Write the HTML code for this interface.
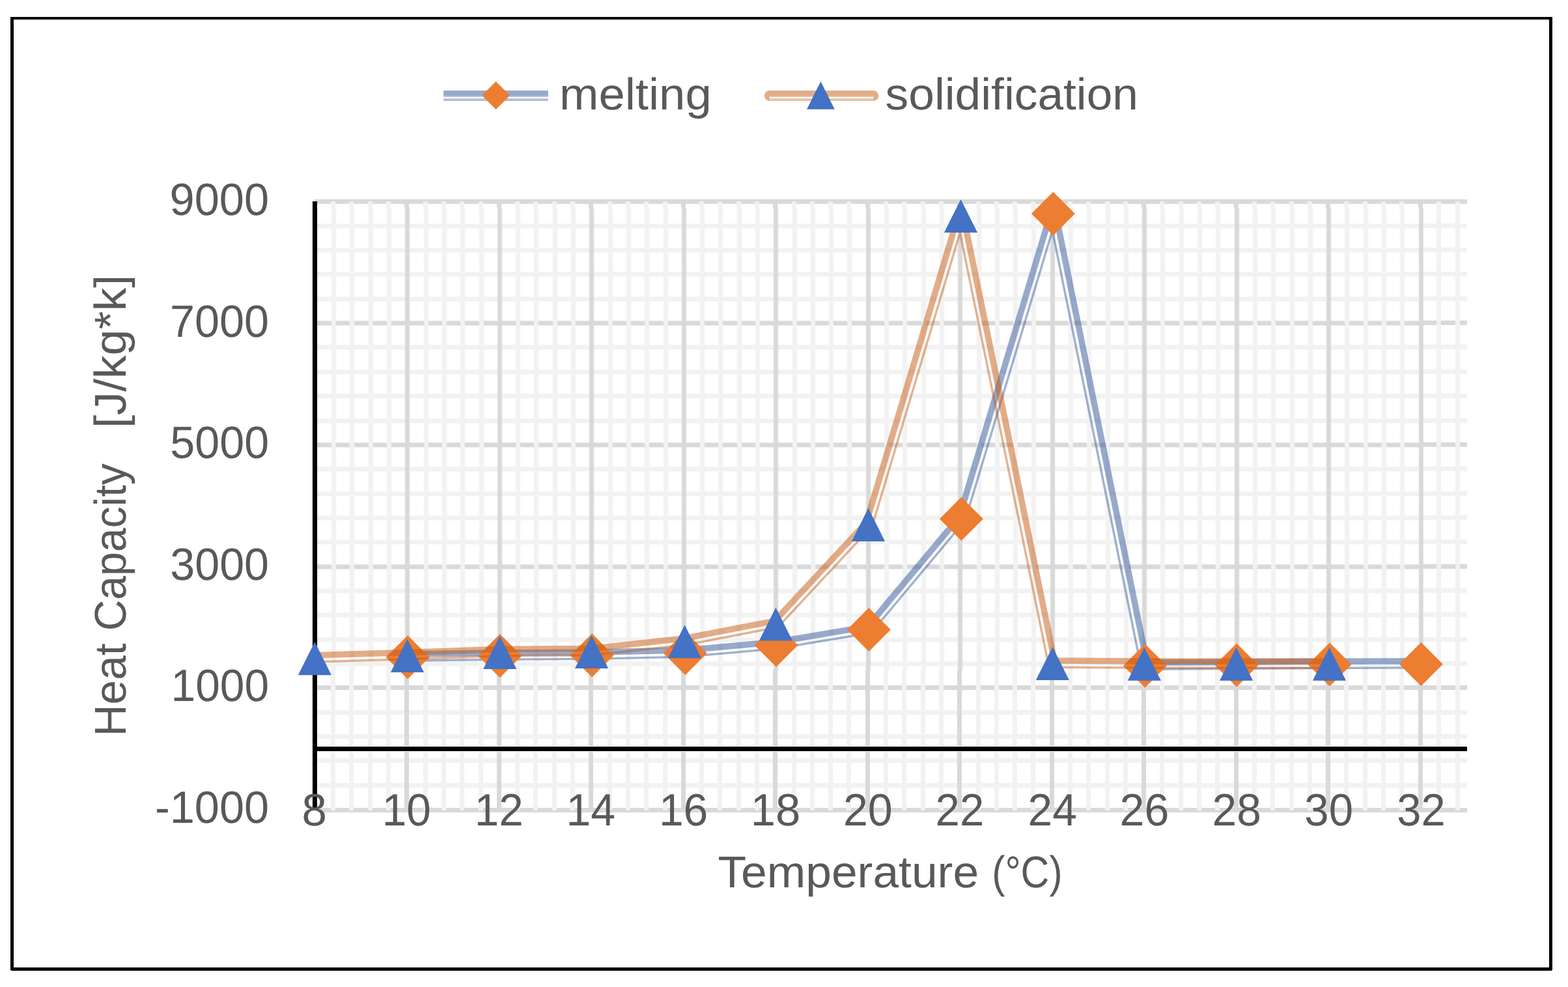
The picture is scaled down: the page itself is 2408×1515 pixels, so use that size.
<!DOCTYPE html>
<html lang="en"><head><meta charset="utf-8"><title>Heat capacity vs temperature</title>
<style>html,body{margin:0;padding:0;background:#fff}body{width:2408px;height:1515px;overflow:hidden}svg{display:block}text{font-family:"Liberation Sans",sans-serif;fill:#595959;text-rendering:geometricPrecision}</style>
</head><body>
<svg width="2408" height="1515" viewBox="0 0 2408 1515">
<defs><clipPath id="raster-area"><rect x="487" y="319" width="1699" height="710"/></clipPath></defs>
<rect width="2408" height="1515" fill="#fff"/>
<g id="chart-frame">
<path d="M16 26H2384V1489H2383V1490H17V1489H16Z M21 30V1485H2379V30Z" fill="#000" fill-rule="evenodd"/>
</g>
<g id="gridlines">
<path d="M483.50 1205.50H2253.00M483.50 1167.50H2253.00M483.50 1130.50H2253.00M483.50 1093.50H2253.00M483.50 1018.50H2253.00M483.50 981.50H2253.00M483.50 943.50H2253.00M483.50 906.50H2253.00M483.50 831.50H2253.00M483.50 794.50H2253.00M483.50 757.50H2253.00M483.50 719.50H2253.00M483.50 645.50H2253.00M483.50 607.50H2253.00M483.50 570.50H2253.00M483.50 532.50H2253.00M483.50 458.50H2253.00M483.50 420.50H2253.00M483.50 383.50H2253.00M483.50 346.50H2253.00" stroke="#f2f2f2" stroke-width="7" fill="none"/>
<path d="M487.00 1243.50H2253.00M483.50 1055.50H2253.00M483.50 869.50H2253.00M483.50 682.50H2253.00M483.50 495.50H2253.00M483.50 309.50H2253.00" stroke="#d9d9d9" stroke-width="7" fill="none"/>
<path d="M511.50 309.50V1243.80M539.50 309.50V1243.80M568.50 309.50V1243.80M596.50 309.50V1243.80M653.50 309.50V1243.80M681.50 309.50V1243.80M709.50 309.50V1243.80M738.50 309.50V1243.80M794.50 309.50V1243.80M822.50 309.50V1243.80M851.50 309.50V1243.80M879.50 309.50V1243.80M936.50 309.50V1243.80M964.50 309.50V1243.80M992.50 309.50V1243.80M1021.50 309.50V1243.80M1077.50 309.50V1243.80M1105.50 309.50V1243.80M1134.50 309.50V1243.80M1162.50 309.50V1243.80M1219.50 309.50V1243.80M1247.50 309.50V1243.80M1275.50 309.50V1243.80M1303.50 309.50V1243.80M1360.50 309.50V1243.80M1388.50 309.50V1243.80M1417.50 309.50V1243.80M1445.50 309.50V1243.80M1502.50 309.50V1243.80M1530.50 309.50V1243.80M1558.50 309.50V1243.80M1586.50 309.50V1243.80M1643.50 309.50V1243.80M1671.50 309.50V1243.80M1700.50 309.50V1243.80M1728.50 309.50V1243.80M1784.50 309.50V1243.80M1813.50 309.50V1243.80M1841.50 309.50V1243.80M1869.50 309.50V1243.80M1926.50 309.50V1243.80M1954.50 309.50V1243.80M1983.50 309.50V1243.80M2011.50 309.50V1243.80M2067.50 309.50V1243.80M2096.50 309.50V1243.80M2124.50 309.50V1243.80M2152.50 309.50V1243.80M2209.50 309.50V1243.80M2238.50 309.50V1243.80" stroke="#f2f2f2" stroke-width="7" fill="none"/>
<path d="M624.50 309.50V1243.80M766.50 309.50V1243.80M907.50 309.50V1243.80M1049.50 309.50V1243.80M1190.50 309.50V1243.80M1332.50 309.50V1243.80M1473.50 309.50V1243.80M1615.50 309.50V1243.80M1756.50 309.50V1243.80M1898.50 309.50V1243.80M2039.50 309.50V1243.80M2181.50 309.50V1243.80" stroke="#d9d9d9" stroke-width="7" fill="none"/>
</g>
<g id="axes">
<path d="M487 1145.45H2253M487 1153.55H2253" stroke="#fff" stroke-width="1.1" fill="none"/>
<path d="M483.50 309V1240M483.50 1149.50H2253.00" stroke="#000" stroke-width="7" fill="none"/>
</g>
<g clip-path="url(#raster-area)"><g transform="translate(0.5 0.1)"><rect x="470" y="300" width="1730" height="740" fill="#fff"/><use href="#gridlines"/></g><g transform="translate(1.5 1.1)" opacity="0.5"><rect x="470" y="300" width="1730" height="740" fill="#fff"/><use href="#gridlines"/></g><rect x="487" y="319" width="2.5" height="710" fill="#000" fill-opacity="0.05"/></g>
<g id="series-melting">
<g fill="none" stroke="#2f5597" stroke-linejoin="round" stroke-linecap="butt">
<path d="M626.0 1004.0L767.6 1002.0L767.7 1002.0L767.7 1002.0L909.0 1001.2L1052.1 997.9L1191.5 985.4L1332.4 961.9L1473.2 793.6L1614.0 325.8L1614.3 325.0L1614.8 324.3L1615.5 323.8L1616.3 323.4L1617.1 323.2L1618.0 323.3L1618.8 323.5L1619.6 323.9L1620.2 324.5L1620.6 325.3L1620.9 326.1L1761.3 1017.1L1899.1 1016.2L1899.1 1016.2L1899.1 1016.2L2042.0 1015.3L2042.0 1015.3L2042.0 1015.3L2182.4 1014.7" stroke-width="9.5" stroke-opacity="0.5"/>
<path d="M626.2 1014.2L767.8 1012.2L909.1 1011.4L909.2 1011.4L909.3 1011.4L1052.5 1008.1L1052.7 1008.1L1052.9 1008.1L1192.6 995.6L1192.8 995.6L1193.1 995.5L1335.4 971.7L1336.9 971.3L1338.2 970.5L1339.4 969.5L1481.5 799.6L1482.2 798.4L1482.7 797.2L1616.2 354.0L1751.9 1022.0L1752.4 1023.5L1753.2 1024.8L1754.2 1025.8L1755.5 1026.7L1756.9 1027.2L1758.4 1027.3L1899.1 1026.4L2042.0 1025.5L2182.4 1024.9" stroke-width="3.4" stroke-opacity="0.46"/>
</g>
<path fill="#ed7d31" d="M626.1 975.3L659.6 1008.8L626.1 1042.3L592.6 1008.8ZM767.7 973.3L801.2 1006.8L767.7 1040.3L734.2 1006.8ZM909.1 972.5L942.6 1006.0L909.1 1039.5L875.6 1006.0ZM1052.3 969.2L1085.8 1002.7L1052.3 1036.2L1018.8 1002.7ZM1192.0 956.7L1225.5 990.2L1192.0 1023.7L1158.5 990.2ZM1334.3 932.9L1367.8 966.4L1334.3 999.9L1300.8 966.4ZM1476.4 763.0L1509.9 796.5L1476.4 830.0L1442.9 796.5ZM1617.4 294.5L1650.9 328.0L1617.4 361.5L1583.9 328.0ZM1758.4 988.4L1791.9 1021.9L1758.4 1055.4L1724.9 1021.9ZM1899.1 987.5L1932.6 1021.0L1899.1 1054.5L1865.6 1021.0ZM2042.0 986.6L2075.5 1020.1L2042.0 1053.6L2008.5 1020.1ZM2182.4 986.0L2215.9 1019.5L2182.4 1053.0L2148.9 1019.5Z"/>
</g>
<g id="series-solidification">
<g fill="none" stroke="#c55a11" stroke-linejoin="round" stroke-linecap="round">
<path d="M483.3 1005.7L625.4 1001.5L767.6 996.5L767.6 996.5L767.7 996.5L908.3 995.5L1051.0 979.9L1189.6 953.2L1330.3 802.4L1472.1 329.2L1472.4 328.4L1472.9 327.7L1473.6 327.2L1474.4 326.8L1475.2 326.6L1476.1 326.7L1476.9 326.9L1477.7 327.3L1478.3 327.9L1478.7 328.7L1479.0 329.5L1619.3 1014.1L1757.3 1014.9L1898.6 1014.9L2041.5 1014.9" stroke-width="9.5" stroke-opacity="0.5"/>
<path d="M483.6 1015.9L625.7 1011.7L625.7 1011.7L625.7 1011.7L767.8 1006.7L908.5 1005.7L908.9 1005.7L909.2 1005.7L1052.2 990.0L1052.5 990.0L1052.8 989.9L1192.7 963.0L1194.0 962.6L1195.2 961.9L1196.2 961.0L1338.3 808.7L1339.3 807.5L1339.9 806.1L1474.3 357.3L1609.9 1019.0L1610.4 1020.5L1611.1 1021.7L1612.2 1022.8L1613.5 1023.6L1614.9 1024.2L1616.4 1024.3L1757.3 1025.1L1757.3 1025.1L1757.3 1025.1L1898.6 1025.1L2041.5 1025.1" stroke-width="3.4" stroke-opacity="0.46"/>
</g>
<path fill="#4472c4" d="M483.4 985.2L509.0 1036.2L457.8 1036.2ZM625.5 981.0L651.1 1032.0L599.9 1032.0ZM767.7 976.0L793.3 1027.0L742.1 1027.0ZM908.5 975.0L934.1 1026.0L882.9 1026.0ZM1051.5 959.3L1077.1 1010.3L1025.9 1010.3ZM1191.4 932.4L1217.0 983.4L1165.8 983.4ZM1333.5 780.1L1359.1 831.1L1307.9 831.1ZM1475.5 306.1L1501.1 357.1L1449.9 357.1ZM1616.4 993.0L1642.0 1044.0L1590.8 1044.0ZM1757.3 993.8L1782.9 1044.8L1731.7 1044.8ZM1898.6 993.8L1924.2 1044.8L1873.0 1044.8ZM2041.5 993.8L2067.1 1044.8L2015.9 1044.8Z"/>
</g>
<g id="legend">
<g fill="#2f5597"><rect x="681.2" y="139" width="160.7" height="8" fill-opacity="0.5"/><rect x="681.2" y="147" width="160.7" height="1.9" fill-opacity="0.37"/><rect x="681.2" y="151.1" width="160.7" height="4" fill-opacity="0.37"/></g>
<path fill="#ed7d31" d="M761.6 125.0L783.1 146.5L761.6 168.0L740.1 146.5Z"/>
<g fill="#c55a11"><path fill-opacity="0.5" d="M1181.7 139.1A7.9 7.9 0 0 0 1181.7 154.9ZM1341.4 139.1A7.9 7.9 0 0 1 1341.4 154.9ZM1181.7 139.1H1341.4V147H1181.7Z"/><path fill-opacity="0.37" d="M1181.7 147H1341.4V148.9H1181.7ZM1181.7 151.1H1341.4V154.9H1181.7Z"/></g>
<path fill="#4472c4" d="M1260.4 125L1281.8 167.8L1239 167.8Z"/>
<text x="859.0" y="167.8" font-size="68.4" textLength="233.7" lengthAdjust="spacingAndGlyphs">melting</text>
<text x="1359.6" y="167.8" font-size="68.4" textLength="388.4" lengthAdjust="spacingAndGlyphs">solidification</text>
</g>
<g id="y-axis-labels">
<text x="237.9" y="1262.7" font-size="69.6" textLength="175.2" lengthAdjust="spacingAndGlyphs">-1000</text>
<text x="262.5" y="1076.2" font-size="69.6" textLength="150.6" lengthAdjust="spacingAndGlyphs">1000</text>
<text x="261.2" y="889.7" font-size="69.6" textLength="151.9" lengthAdjust="spacingAndGlyphs">3000</text>
<text x="261.3" y="703.3" font-size="69.6" textLength="151.8" lengthAdjust="spacingAndGlyphs">5000</text>
<text x="260.9" y="516.8" font-size="69.6" textLength="152.2" lengthAdjust="spacingAndGlyphs">7000</text>
<text x="260.6" y="330.3" font-size="69.6" textLength="152.5" lengthAdjust="spacingAndGlyphs">9000</text>
</g>
<g id="x-axis-labels">
<text x="463.5" y="1266.7" font-size="69.6" textLength="38.5" lengthAdjust="spacingAndGlyphs">8</text>
<text x="586.7" y="1266.7" font-size="69.6" textLength="75.2" lengthAdjust="spacingAndGlyphs">10</text>
<text x="728.7" y="1266.7" font-size="69.6" textLength="74.9" lengthAdjust="spacingAndGlyphs">12</text>
<text x="869.4" y="1266.7" font-size="69.6" textLength="75.6" lengthAdjust="spacingAndGlyphs">14</text>
<text x="1011.9" y="1266.7" font-size="69.6" textLength="75.4" lengthAdjust="spacingAndGlyphs">16</text>
<text x="1152.7" y="1266.7" font-size="69.6" textLength="76.5" lengthAdjust="spacingAndGlyphs">18</text>
<text x="1294.9" y="1266.7" font-size="69.6" textLength="75.8" lengthAdjust="spacingAndGlyphs">20</text>
<text x="1436.6" y="1266.7" font-size="69.6" textLength="74.7" lengthAdjust="spacingAndGlyphs">22</text>
<text x="1578.6" y="1266.7" font-size="69.6" textLength="75.4" lengthAdjust="spacingAndGlyphs">24</text>
<text x="1719.5" y="1266.7" font-size="69.6" textLength="75.8" lengthAdjust="spacingAndGlyphs">26</text>
<text x="1861.6" y="1266.7" font-size="69.6" textLength="75.4" lengthAdjust="spacingAndGlyphs">28</text>
<text x="2003.3" y="1266.7" font-size="69.6" textLength="74.7" lengthAdjust="spacingAndGlyphs">30</text>
<text x="2145.2" y="1266.7" font-size="69.6" textLength="74.5" lengthAdjust="spacingAndGlyphs">32</text>
</g>
<g id="axis-titles">
<text y="1361.9" font-size="68.4"><tspan x="1102.4" textLength="400.7" lengthAdjust="spacingAndGlyphs">Temperature</tspan> <tspan x="1523.2" textLength="108.4" lengthAdjust="spacingAndGlyphs">(°C)</tspan></text>
<text transform="translate(193.3 1200) rotate(-90)" y="0" font-size="68.4"><tspan x="69.7" textLength="142.9" lengthAdjust="spacingAndGlyphs">Heat</tspan> <tspan x="231.7" textLength="256.9" lengthAdjust="spacingAndGlyphs">Capacity</tspan> <tspan x="542.9" textLength="235.4" lengthAdjust="spacingAndGlyphs">[J/kg*k]</tspan></text>
</g>
</svg>
</body></html>
